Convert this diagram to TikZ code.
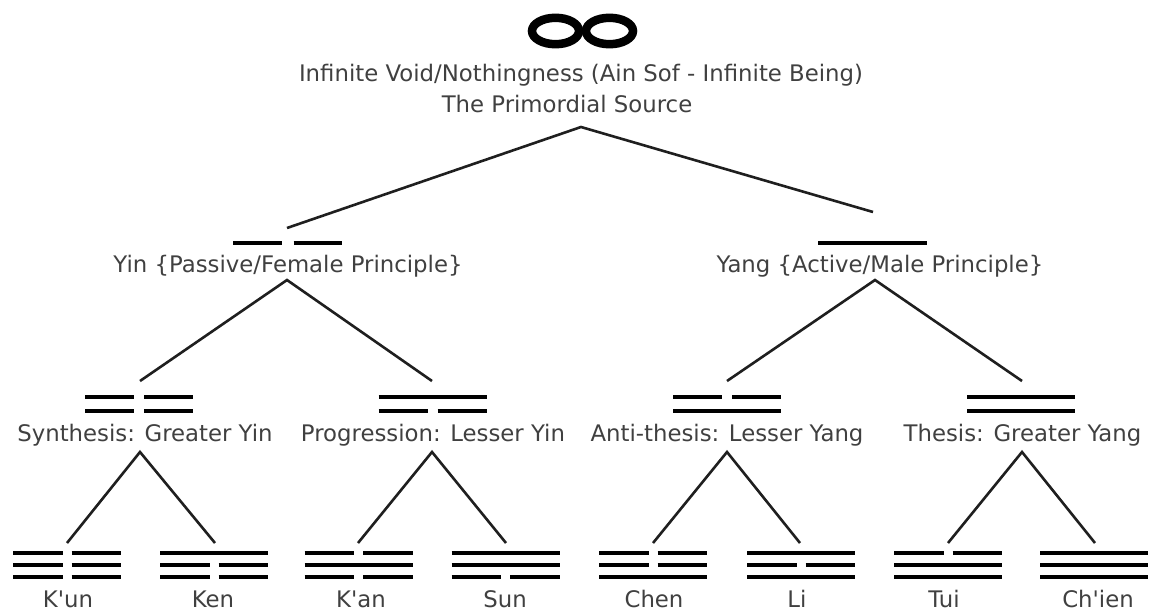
\documentclass[tikz,border=0pt]{standalone}
\usepackage{fontspec}
\setmainfont{DejaVu Sans}[Ligatures=TeXOff]
\tikzset{
  lbl/.style={text=black!75, font=\fontsize{22.8}{27}\selectfont, inner sep=0pt, anchor=base},
  conn/.style={line width=2.6pt, draw=black!88},
  bar/.style={line width=4.5pt, draw=black, line cap=butt},
  inf/.style={line width=8.5pt, draw=black}
}
% one line of a gram: centre x, y, width, gap, type (1 solid, 0 broken)
\newcommand{\gramline}[5]{%
  \ifnum#5=1
    \draw[bar] ({#1-#3/2},#2) -- ({#1+#3/2},#2);
  \else
    \draw[bar] ({#1-#3/2},#2) -- ({#1-#4/2},#2);
    \draw[bar] ({#1+#4/2},#2) -- ({#1+#3/2},#2);
  \fi}
\newcommand{\digram}[3]{\gramline{#1}{397}{108}{10}{#2}\gramline{#1}{411}{108}{10}{#3}}
\newcommand{\trigram}[4]{\gramline{#1}{553}{108}{9}{#2}\gramline{#1}{565}{108}{9}{#3}\gramline{#1}{577}{108}{9}{#4}}
\begin{document}
\begin{tikzpicture}[x=1pt,y=-1pt]
\useasboundingbox (0,0) rectangle (1150,613);
% infinity
\draw[inf] (555.5,31) ellipse [x radius=23.5pt, y radius=13.2pt];
\draw[inf] (609.5,31) ellipse [x radius=23.5pt, y radius=13.2pt];
\node[lbl] (src1) at (581,81) {Infinite Void/Nothingness (Ain Sof - Infinite Being)};
\node[lbl] (src2) at (567,112) {The Primordial Source};
% level 1
\gramline{287.5}{243}{109}{12}{0}
\gramline{872.5}{243}{109}{12}{1}
\node[lbl] (yin) at (288,272) {Yin \{Passive/Female Principle\}};
\node[lbl] (yang) at (880,272) {Yang \{Active/Male Principle\}};
% level 2
\digram{139}{0}{0}
\digram{432.5}{1}{0}
\digram{727}{0}{1}
\digram{1021}{1}{1}
\node[lbl] (gyin) at (145,441) {Synthesis: Greater Yin};
\node[lbl] (lyin) at (433,441) {Progression: Lesser Yin};
\node[lbl] (lyang) at (727,441) {Anti-thesis: Lesser Yang};
\node[lbl] (gyang) at (1022.5,441) {Thesis: Greater Yang};
% level 3
\trigram{67}{0}{0}{0}
\trigram{214}{1}{0}{0}
\trigram{358.5}{0}{1}{0}
\trigram{505.5}{1}{1}{0}
\trigram{653}{0}{0}{1}
\trigram{801}{1}{0}{1}
\trigram{948}{0}{1}{1}
\trigram{1094}{1}{1}{1}
\node[lbl] (kun) at (68,607) {K'un};
\node[lbl] (ken) at (213,607) {Ken};
\node[lbl] (kan) at (361,607) {K'an};
\node[lbl] (sun) at (505,607) {Sun};
\node[lbl] (chen) at (654,607) {Chen};
\node[lbl] (li) at (797,607) {Li};
\node[lbl] (tui) at (944,607) {Tui};
\node[lbl] (chien) at (1098,607) {Ch'ien};
% connector end points
\coordinate (srcB) at (581,127);
\coordinate (yinT) at (287,228);
\coordinate (yangT) at (873,212);
\coordinate (yinB) at (287,280);
\coordinate (yangB) at (875,280);
\coordinate (gyinT) at (140,381);
\coordinate (lyinT) at (432,381);
\coordinate (lyangT) at (727,381);
\coordinate (gyangT) at (1022,381);
\coordinate (gyinB) at (140,452);
\coordinate (lyinB) at (432,452);
\coordinate (lyangB) at (727,452);
\coordinate (gyangB) at (1022,452);
\coordinate (kunT) at (67,543);
\coordinate (kenT) at (215,543);
\coordinate (kanT) at (358,543);
\coordinate (sunT) at (506,543);
\coordinate (chenT) at (653,543);
\coordinate (liT) at (800,543);
\coordinate (tuiT) at (948,543);
\coordinate (chienT) at (1095,543);
% connectors
\draw[conn] (yinT) -- (srcB) -- (yangT);
\draw[conn] (gyinT) -- (yinB) -- (lyinT);
\draw[conn] (lyangT) -- (yangB) -- (gyangT);
\draw[conn] (kunT) -- (gyinB) -- (kenT);
\draw[conn] (kanT) -- (lyinB) -- (sunT);
\draw[conn] (chenT) -- (lyangB) -- (liT);
\draw[conn] (tuiT) -- (gyangB) -- (chienT);
\end{tikzpicture}
\end{document}
